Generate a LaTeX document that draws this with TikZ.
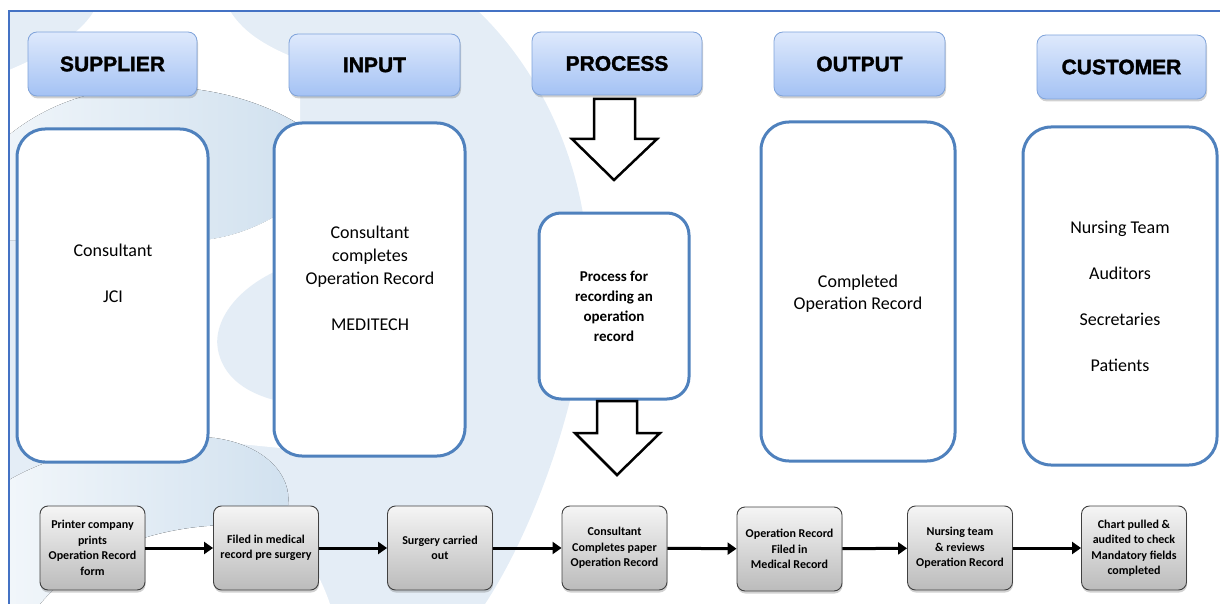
\documentclass[tikz,border=0pt]{standalone}
\usepackage{fontspec}
\setmainfont{Carlito}
\newfontfamily\headfont{Liberation Sans}[BoldFeatures={FakeBold=1.6}]
\usetikzlibrary{arrows.meta,shadows}

\definecolor{frameblue}{HTML}{4472C4}
\definecolor{boxblue}{HTML}{4F81BD}
\definecolor{headtop}{HTML}{DEE9FC}
\definecolor{headbot}{HTML}{A4C2F4}
\definecolor{headedge}{HTML}{7FA3DA}
\definecolor{paleblue}{HTML}{E4EDF6}
\definecolor{ribbon}{HTML}{D1E1EF}
\definecolor{greytop}{HTML}{F5F5F5}
\definecolor{greybot}{HTML}{BBBBBB}

\begin{document}
\begin{tikzpicture}[x=1pt,y=-1pt,
  header/.style={rounded corners=9pt, draw=headedge, line width=0.8pt,
    top color=headtop, bottom color=headbot, inner sep=0pt,
    font=\headfont\bfseries\fontsize{21}{24}\selectfont,
    drop shadow={shadow xshift=1pt, shadow yshift=-2.5pt, opacity=0.3, fill=black!60}},
  bigbox/.style={draw=boxblue, line width=3pt, rounded corners=28pt, fill=white, inner sep=0pt},
  bodytext/.style={align=center, inner sep=0pt, font=\fontsize{18}{23}\selectfont},
  proctext/.style={align=center, inner sep=0pt, font=\bfseries\fontsize{15}{20}\selectfont},
  stepbox/.style={draw=black!75, line width=0.9pt, rounded corners=8pt,
    top color=greytop, bottom color=greybot, minimum width=105pt, minimum height=84pt,
    align=center, inner sep=2pt, font=\bfseries\fontsize{12}{15.5}\selectfont,
    drop shadow={shadow xshift=0.5pt, shadow yshift=-2.5pt, opacity=0.3, fill=black!60}},
  flow/.style={line width=3pt, -{Triangle[length=9pt,width=12pt]}},
  hollow/.style={draw=black, line width=2.5pt, fill=white, line join=miter}
]
\useasboundingbox (0,0) rectangle (1220,604);

% faint logo in the background
\begin{scope}
  \clip (9,11) rectangle (1220,604);
  \fill[paleblue] (9,11) -- (478,11) .. controls (540,70) and (590,170) .. (588,280)
    .. controls (586,380) and (540,520) .. (485,604) -- (9,604) -- cycle;
  \fill[white] (94,11) -- (230,11) .. controls (245,35) and (270,48) .. (300,60) -- (300,125)
    .. controls (260,100) and (200,82) .. (130,88) .. controls (80,92) and (40,110) .. (9,135)
    -- (9,70) .. controls (45,55) and (80,35) .. (94,11) -- cycle;
  \fill[left color=ribbon!35!white, right color=ribbon] (300,125) .. controls (260,100) and (200,82) .. (130,88)
    .. controls (80,92) and (40,110) .. (9,135) -- (9,240) -- (205,240)
    .. controls (240,236) and (270,222) .. (300,200) -- cycle;
  \fill[white] (205,240) .. controls (240,236) and (270,222) .. (300,200) -- (300,450) -- (200,440) -- cycle;
  \fill[paleblue] (300,262) .. controls (240,280) and (212,320) .. (218,350)
    .. controls (225,385) and (260,400) .. (300,405) -- cycle;
  \fill[white] (40,604) .. controls (90,545) and (170,522) .. (250,525)
    .. controls (290,528) and (315,560) .. (330,604) -- cycle;
  \fill[left color=ribbon!30!white, right color=ribbon] (9,480) .. controls (60,450) and (150,432) .. (215,438)
    .. controls (265,445) and (292,475) .. (288,505) .. controls (285,520) and (270,525) .. (250,525)
    .. controls (170,522) and (90,545) .. (40,604) -- (9,604) -- cycle;
\end{scope}

% frame
\draw[frameblue, line width=2pt] (9,604) -- (9,11) -- (1220,11);

% column headers
\node[header, minimum width=169pt, minimum height=64pt] (hsup) at (112.5,64) {SUPPLIER};
\node[header, minimum width=171pt, minimum height=62pt] (hin)  at (374.5,65) {INPUT};
\node[header, minimum width=170pt, minimum height=63pt] (hpro) at (617,63.5) {PROCESS};
\node[header, minimum width=171pt, minimum height=64pt] (hout) at (859.5,64) {OUTPUT};
\node[header, minimum width=169pt, minimum height=64pt] (hcus) at (1121.5,67) {CUSTOMER};

% column boxes
\node[bigbox, minimum width=191pt, minimum height=333pt] (bsup) at (112.5,295.5) {};
\node[bigbox, minimum width=191pt, minimum height=333pt] (bin)  at (369.5,289.5) {};
\node[bigbox, minimum width=150pt, minimum height=186pt, rounded corners=22pt] (bpro) at (614,306) {};
\node[bigbox, minimum width=194pt, minimum height=339pt] (bout) at (858,291.5) {};
\node[bigbox, minimum width=194pt, minimum height=338pt] (bcus) at (1120,296) {};

\node[bodytext] (tsup) at (113,273) {Consultant\\[23pt]JCI};
\node[bodytext] (tin)  at (370,278) {Consultant\\completes\\Operation Record\\[23pt]MEDITECH};
\node[proctext] (tpro) at (614,306) {Process for\\recording an\\operation\\record};
\node[bodytext, font=\fontsize{18}{22}\selectfont] (tout) at (858,293.5) {Completed\\Operation Record};
\node[bodytext] (tcus) at (1120,296) {Nursing Team\\[23pt]Auditors\\[23pt]Secretaries\\[23pt]Patients};

% hollow arrows above and below the process box
\draw[hollow] (594,99) -- (635,99) -- (635,139) -- (657,139) -- (614,180) -- (572,139) -- (594,139) -- cycle;
\draw[hollow] (597,401) -- (637,401) -- (637,433) -- (660,433) -- (617,475) -- (575,433) -- (597,433) -- cycle;

% process steps
\node[stepbox] (s1) at (92.5,548) {Printer company\\prints\\Operation Record\\form};
\node[stepbox] (s2) at (266,548) {Filed in medical\\record pre surgery};
\node[stepbox] (s3) at (440,548) {Surgery carried\\out};
\node[stepbox] (s4) at (614.5,548) {Consultant\\Completes paper\\Operation Record};
\node[stepbox] (s5) at (789.5,549) {Operation Record\\Filed in\\Medical Record};
\node[stepbox] (s6) at (960,548) {Nursing team\\\& reviews\\Operation Record};
\node[stepbox] (s7) at (1134,548) {Chart pulled \&\\audited to check\\Mandatory fields\\completed};

\draw[flow] (s1) -- (s2);
\draw[flow] (s2) -- (s3);
\draw[flow] (s3) -- (s4);
\draw[flow] (s4) -- (s5);
\draw[flow] (s5) -- (s6);
\draw[flow] (s6) -- (s7);
\end{tikzpicture}
\end{document}
